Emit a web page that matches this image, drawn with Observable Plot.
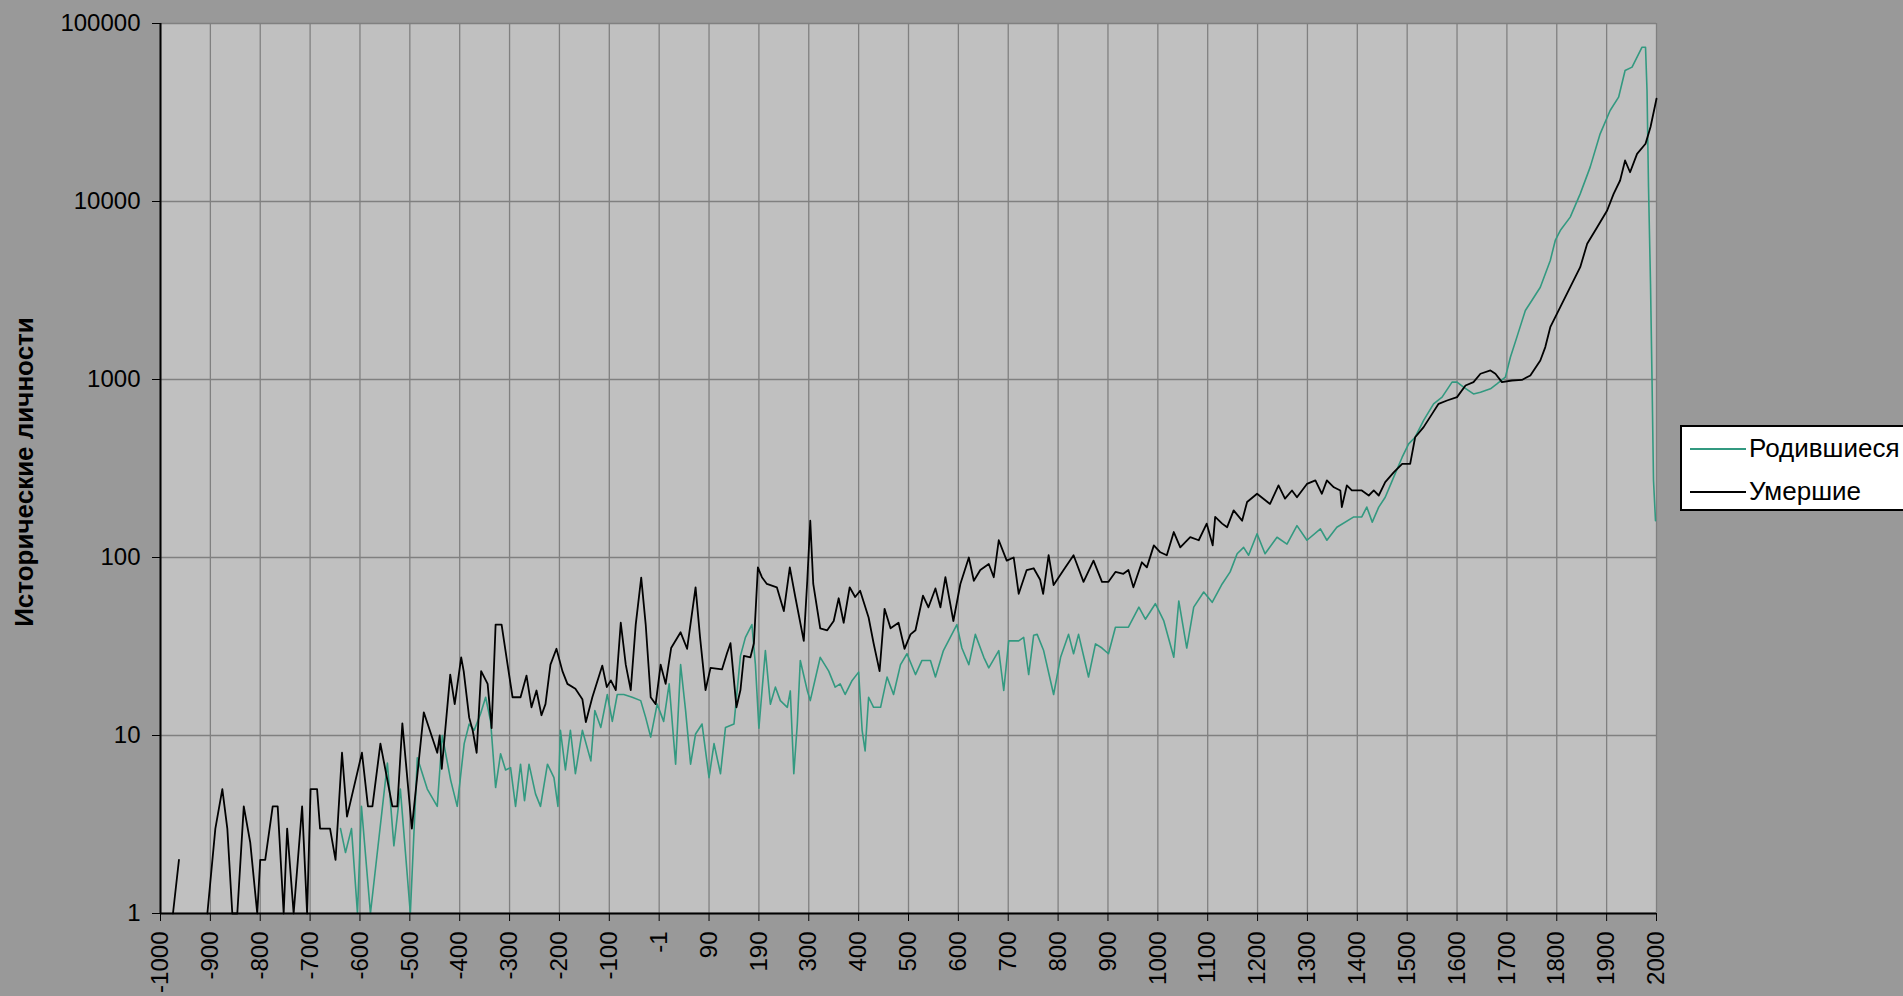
<!DOCTYPE html>
<html>
<head>
<meta charset="utf-8">
<script src="https://cdn.jsdelivr.net/npm/d3@7"></script>
<script src="https://cdn.jsdelivr.net/npm/@observablehq/plot@0.6"></script>
<style>
  html, body { margin: 0; padding: 0; background: #999999; overflow: hidden; }
  #wrap { position: relative; width: 1903px; height: 996px; font-family: "Liberation Sans", Arial, sans-serif; }
  #ytitle { position: absolute; left: 24px; top: 472px; transform: translate(-50%, -50%) rotate(-90deg); font-weight: bold; font-size: 26px; color: #000; white-space: nowrap; }
  #legend { position: absolute; left: 1680px; top: 425px; width: 260px; height: 86px; background: #fff; border: 2px solid #000; box-sizing: border-box; font-size: 26px; color: #000; }
  .item { position: absolute; left: 8px; display: flex; align-items: center; }
  .item span.sw { display: inline-block; width: 56px; height: 0; border-top: 2px solid; margin-right: 3px; }
</style>
</head>
<body>
<div id="wrap">
  <div id="chart"></div>
  <div id="ytitle">Исторические личности</div>
  <div id="legend">
    <div class="item" style="top:6px"><span class="sw" style="border-color:#339980"></span>Родившиеся</div>
    <div class="item" style="top:49px"><span class="sw" style="border-color:#000"></span>Умершие</div>
  </div>
</div>
<script>
// ---- data ----
const seriesNames = ["Родившиеся", "Умершие"];
const xTickPositions = d3.range(-1000, 2001, 100);
const xTickLabels = ["-1000","-900","-800","-700","-600","-500","-400","-300","-200","-100","-1","90","190","300","400","500","600","700","800","900","1000","1100","1200","1300","1400","1500","1600","1700","1800","1900","2000"];
const yTicks = [1, 10, 100, 1000, 10000, 100000];

const bornYears = [-639,-629,-617,-605,-597,-579,-545,-532,-519,-499,-485,-465,-445,-435,-418,-405,-391,-381,-371,-358,-348,-338,-328,-318,-308,-298,-288,-278,-270,-261,-248,-238,-224,-211,-203,-198,-188,-178,-168,-154,-137,-129,-117,-104,-94,-84,-71,-54,-37,-27,-17,-4,9,20,33,43,53,63,73,86,100,110,123,133,150,163,173,186,193,200,213,223,233,243,257,263,270,277,283,297,303,323,340,353,363,373,387,400,407,413,420,430,444,457,470,484,497,514,527,544,554,570,597,607,621,634,651,661,681,691,701,721,731,741,751,758,771,791,805,821,831,841,861,875,888,901,915,941,962,975,995,1012,1032,1042,1058,1072,1092,1109,1129,1145,1159,1172,1182,1199,1215,1239,1259,1279,1299,1326,1339,1359,1393,1409,1419,1430,1443,1456,1473,1490,1503,1516,1533,1553,1570,1590,1600,1613,1633,1647,1667,1680,1697,1707,1720,1737,1750,1767,1787,1797,1807,1827,1847,1867,1887,1907,1924,1937,1951,1961,1971,1978,1981,1984,1988,1991,1994,1998];
const bornValues = [3,2.2,3,1,4,1,7,2.4,5,1,7.5,5,4,10,5.6,4,9,11.6,10.7,13.3,16.4,12,5.1,7.9,6.4,6.6,4,6.9,4.3,6.9,4.7,4,6.9,5.8,4,10.7,6.4,10.7,6.1,10.7,7.2,13.8,11.1,17,12,17,17,16.4,15.7,12.6,9.8,15,12,19.5,6.9,25,13.8,6.9,10.2,11.6,5.8,9,6.1,11.1,11.6,28,35.6,42,25,11,30,15,18.7,15.7,14.4,17.8,6.1,11.6,26.4,17.9,15.7,27.5,23,18.7,19.5,17,20.4,22.7,10.7,8.2,16.4,14.4,14.4,21.3,17,25,28.8,22,26.4,26.4,21.3,30,42,31,25,37,27.5,24,30,17.9,34,34,35.6,22,36.6,37,30,17,27.5,37,28.8,37,21.3,32.7,31,28.8,40.6,40.6,52.6,45,55,44,27.5,57,31,52.6,64,56,71,83,105,114,103,136,105,130,119,151,125,145,125,148,169,169,192,158,192,218,283,366,435,474,589,730,796,966,966,906,830,849,887,945,1031,1334,1730,2442,2780,3300,4665,6040,6870,8170,11040,15600,24000,32450,38550,54460,56880,64740,73620,73620,42000,12040,3445,1009,271,161];

const diedYears = [-975,-963,-950,-906,-890,-876,-866,-856,-846,-833,-820,-806,-800,-790,-775,-765,-753,-746,-733,-716,-706,-699,-686,-680,-660,-649,-636,-626,-596,-584,-575,-559,-535,-525,-515,-496,-472,-445,-440,-436,-419,-410,-397,-392,-381,-374,-366,-357,-344,-336,-328,-316,-304,-294,-278,-266,-256,-246,-236,-228,-218,-206,-194,-184,-168,-154,-147,-134,-114,-105,-97,-87,-77,-67,-57,-47,-36,-27,-17,-7,3,13,24,43,56,73,82,93,103,126,136,143,155,163,170,183,190,198,206,216,236,250,262,273,290,297,303,309,323,337,350,360,370,382,393,403,420,430,442,452,464,480,492,504,514,529,540,554,564,574,590,604,621,631,644,661,671,681,697,711,721,737,751,764,770,781,791,811,831,851,871,888,901,915,931,941,951,968,978,992,1005,1018,1032,1045,1065,1082,1098,1110,1115,1129,1139,1152,1169,1179,1199,1225,1242,1255,1269,1279,1299,1316,1329,1339,1353,1366,1369,1379,1389,1409,1423,1433,1443,1456,1473,1490,1506,1516,1533,1550,1563,1580,1600,1617,1633,1647,1667,1677,1690,1710,1730,1747,1767,1777,1787,1807,1827,1847,1861,1881,1901,1914,1927,1937,1947,1961,1978,1988,2000];
const diedValues = [1,2,null,1,3,5,3,1,1,4,2.5,1,2,2,4,4,1,3,1,4,1,5,5,3,3,2,8,3.5,8,4,4,9,4,4,11.7,3,13.5,8,10,6.5,22,15,27.5,23,12.6,10.7,8,23,19.5,11,42,42,25,16.4,16.4,21.7,14.4,17.9,13,15,25,30.7,23,19.5,18.3,16,11.9,16.4,24.7,18.7,20.4,18,43,25,18,42,77,42,16.4,15,25,19.5,31,38,30.7,68,35.6,18,24,23.5,29,33,14.4,18,28,27.5,33,88,77.5,71,68,50,88,60,34,74,161,71,40,39,44,59,43,68,60,65,46,33,23,51.5,40,43,30.7,37,39,61,52.5,67,52.5,77.5,44,71,100,74,85,92,77.5,125,96,100,62.5,85,87,75,62.5,103,70,85,103,73,96,73,73,83,81,85,68,94,88,117,107,103,139,114,130,125,155,117,169,155,148,184,161,205,228,200,254,214,238,218,259,271,228,271,248,238,192,254,238,238,223,238,223,265,301,336,336,474,540,641,730,762,796,925,966,1077,1124,1077,966,987,994,1053,1279,1521,1968,2548,3302,4276,5786,7172,8897,11036,13122,17000,14600,18530,21100,26200,37800];

// ---- build ----
const born = bornYears.map((x, i) => ({x, v: bornValues[i], s: seriesNames[0]}));
const died = diedYears.map((x, i) => ({x, v: diedValues[i], s: seriesNames[1]}));
const labelOf = new Map(xTickPositions.map((p, i) => [p, xTickLabels[i]]));

const chart = Plot.plot({
  width: 1903,
  height: 996,
  marginLeft: 160,
  marginRight: 247,
  marginTop: 23,
  marginBottom: 83,
  style: {background: "#999999", fontFamily: "'Liberation Sans', Arial, sans-serif", fontSize: "24px", color: "#000", overflow: "visible"},
  x: {domain: [-1000, 2000]},
  y: {type: "log", domain: [1, 100000]},
  marks: [
    Plot.frame({fill: "#c0c0c0", stroke: null}),
    Plot.gridX(xTickPositions, {stroke: "#808080", strokeOpacity: 1, strokeWidth: 1.3}),
    Plot.gridY(yTicks, {stroke: "#808080", strokeOpacity: 1, strokeWidth: 1.3}),
    Plot.line(born, {x: "x", y: "v", stroke: "#339980", strokeWidth: 1.6}),
    Plot.line(died, {x: "x", y: "v", stroke: "#000000", strokeWidth: 1.8}),
    Plot.axisY({ticks: yTicks, tickFormat: d => String(d), tickSize: 8, tickPadding: 12, label: null, fontSize: 24}),
    Plot.axisX({ticks: xTickPositions, tickFormat: d => labelOf.get(d), tickSize: 8, tickPadding: 10, tickRotate: -90, label: null, fontSize: 24}),
    Plot.ruleX([-1000], {stroke: "#000", strokeWidth: 2}),
    Plot.ruleY([1], {stroke: "#000", strokeWidth: 2})
  ]
});
document.getElementById("chart").appendChild(chart);
</script>
</body>
</html>
